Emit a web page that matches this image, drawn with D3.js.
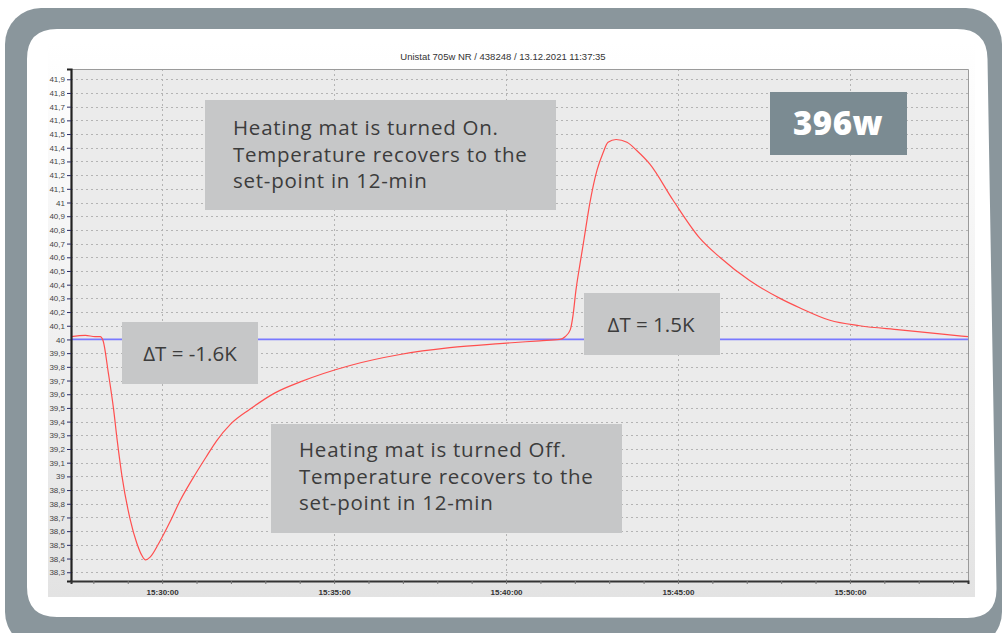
<!DOCTYPE html>
<html>
<head>
<meta charset="utf-8">
<script src="https://cdn.jsdelivr.net/npm/d3@7"></script>
<style>
  html, body { margin: 0; padding: 0; background: #ffffff; }
  svg { display: block; }
</style>
</head>
<body>
<svg id="chart" width="1003" height="633"></svg>
<script>
// ---- data -------------------------------------------------------------
const chartTitle = "Unistat 705w NR / 438248 / 13.12.2021 11:37:35";

// bath temperature log (°C) against time of day
const sampleTimes = [
  "15:27:21","15:27:46","15:28:03","15:28:12","15:28:17","15:28:26","15:28:35",
  "15:28:42","15:28:50","15:29:04","15:29:16","15:29:25","15:29:31","15:29:39",
  "15:29:54","15:30:14","15:30:31","15:31:00","15:31:18","15:31:35","15:31:59",
  "15:32:33","15:33:17","15:34:01","15:35:28","15:36:55","15:38:22","15:39:49",
  "15:40:59","15:41:34","15:41:43","15:41:52","15:41:57","15:42:02","15:42:09",
  "15:42:16","15:42:26","15:42:39","15:42:49","15:42:58","15:43:12","15:43:31",
  "15:43:48","15:44:11","15:44:51","15:45:38","15:46:13","15:47:05","15:47:58",
  "15:48:33","15:49:25","15:50:17","15:51:27","15:52:37","15:53:26"
];
const bathTemps = [
  40.02, 40.03, 40.02, 40.02, 39.99, 39.76, 39.50,
  39.25, 39.00, 38.69, 38.51, 38.42, 38.39, 38.41,
  38.51, 38.67, 38.82, 39.03, 39.15, 39.26, 39.38,
  39.49, 39.61, 39.69, 39.81, 39.89, 39.94, 39.97,
  39.99, 40.00, 40.02, 40.07, 40.18, 40.36, 40.55,
  40.73, 40.99, 41.24, 41.36, 41.44, 41.46, 41.44,
  41.38, 41.28, 41.02, 40.74, 40.60, 40.43, 40.30,
  40.23, 40.14, 40.10, 40.07, 40.04, 40.02
];
const setpointTemp = 40.0;

const timeRange = ["15:27:21", "15:53:26"];
const tempRange = [38.236, 41.975];

const yTickValues = [
  38.3, 38.4, 38.5, 38.6, 38.7, 38.8, 38.9, 39.0, 39.1, 39.2, 39.3, 39.4,
  39.5, 39.6, 39.7, 39.8, 39.9, 40.0, 40.1, 40.2, 40.3, 40.4, 40.5, 40.6,
  40.7, 40.8, 40.9, 41.0, 41.1, 41.2, 41.3, 41.4, 41.5, 41.6, 41.7, 41.8, 41.9
];
const xTickLabels = ["15:30:00", "15:35:00", "15:40:00", "15:45:00", "15:50:00"];

const noteHeatingOn  = ["Heating mat is turned On.", "Temperature recovers to the", "set-point in 12-min"];
const noteHeatingOff = ["Heating mat is turned Off.", "Temperature recovers to the", "set-point in 12-min"];
const noteDropLabel  = "\u0394T = -1.6K";
const noteRiseLabel  = "\u0394T = 1.5K";
const powerLabel     = "396w";

// ---- layout -----------------------------------------------------------
const svg = d3.select("#chart");
const plot = { left: 71, top: 69, right: 968, bottom: 581 };
const parseTime = d3.timeParse("%H:%M:%S");

// grey outer frame with a white card inside
svg.append("rect").attr("x", 5).attr("y", 8).attr("width", 997).attr("height", 640)
  .attr("rx", 36).attr("fill", "#8a969c");

function roundedPoly(pts, r) {
  const n = pts.length;
  let d = "";
  for (let i = 0; i < n; i++) {
    const p0 = pts[(i - 1 + n) % n], p1 = pts[i], p2 = pts[(i + 1) % n];
    const a = unit(p1, p0), b = unit(p1, p2);
    const s = [p1[0] + a[0] * r, p1[1] + a[1] * r];
    const e = [p1[0] + b[0] * r, p1[1] + b[1] * r];
    d += (i === 0 ? "M" : "L") + s[0] + "," + s[1] + "Q" + p1[0] + "," + p1[1] + " " + e[0] + "," + e[1];
  }
  return d + "Z";
  function unit(p, q) {
    const dx = q[0] - p[0], dy = q[1] - p[1], l = Math.hypot(dx, dy);
    return [dx / l, dy / l];
  }
}
svg.append("path")
  .attr("d", roundedPoly([[27, 29], [987, 29], [997, 618], [27, 617]], 30))
  .attr("fill", "#ffffff");

// chart panel background
const defs = svg.append("defs");
const grad = defs.append("linearGradient").attr("id", "panelGrad")
  .attr("x1", 0).attr("y1", 0).attr("x2", 0).attr("y2", 1);
grad.append("stop").attr("offset", "0%").attr("stop-color", "#ffffff");
grad.append("stop").attr("offset", "100%").attr("stop-color", "#e3e3e3");
svg.append("rect").attr("x", 48).attr("y", 42).attr("width", 927).attr("height", 555)
  .attr("fill", "url(#panelGrad)");

svg.append("rect")
  .attr("x", plot.left).attr("y", plot.top)
  .attr("width", plot.right - plot.left).attr("height", plot.bottom - plot.top)
  .attr("fill", "#ebebeb");

svg.append("text")
  .attr("x", 503).attr("y", 60).attr("text-anchor", "middle")
  .attr("font-family", "Liberation Sans, Arial, sans-serif").attr("font-size", 9.5)
  .attr("fill", "#333").text(chartTitle);

// ---- scales -----------------------------------------------------------
const x = d3.scaleTime().domain(timeRange.map(parseTime)).range([plot.left, plot.right]);
const y = d3.scaleLinear().domain(tempRange).range([plot.bottom, plot.top]);

const series = sampleTimes.map((t, i) => ({ t: parseTime(t), v: bathTemps[i] }));
const xMajor = xTickLabels.map(parseTime);

// ---- grid -------------------------------------------------------------
const grid = svg.append("g").attr("stroke", "#b4b4b4").attr("stroke-width", 1)
  .attr("stroke-dasharray", "2,3").attr("fill", "none");
grid.selectAll("line.h").data(yTickValues).join("line").attr("class", "h")
  .attr("x1", plot.left).attr("x2", plot.right)
  .attr("y1", d => Math.round(y(d)) + 0.5).attr("y2", d => Math.round(y(d)) + 0.5);
grid.selectAll("line.v").data(xMajor).join("line").attr("class", "v")
  .attr("y1", plot.top).attr("y2", plot.bottom)
  .attr("x1", d => Math.round(x(d)) + 0.5).attr("x2", d => Math.round(x(d)) + 0.5);

// plot border (top/right)
svg.append("path")
  .attr("d", `M${plot.left},${plot.top + 0.5}H${plot.right + 0.5}V${plot.bottom}`)
  .attr("fill", "none").attr("stroke", "#9a9a9a").attr("stroke-width", 1);

// ---- series -----------------------------------------------------------
svg.append("line")
  .attr("x1", plot.left).attr("x2", plot.right)
  .attr("y1", y(setpointTemp)).attr("y2", y(setpointTemp))
  .attr("stroke", "#7a7aff").attr("stroke-width", 1.8);

svg.append("path").datum(series)
  .attr("fill", "none").attr("stroke", "#ff4f4f").attr("stroke-width", 1.2)
  .attr("d", d3.line().x(d => x(d.t)).y(d => y(d.v)).curve(d3.curveMonotoneX));

// ---- axes -------------------------------------------------------------
const fmtTemp = v => {
  const s = d3.format(".1f")(v).replace(".", ",");
  return s.endsWith(",0") ? s.slice(0, -2) : s;
};
const yAxis = svg.append("g").attr("transform", `translate(${plot.left},0)`)
  .call(d3.axisLeft(y).tickValues(yTickValues).tickSize(4).tickPadding(2).tickFormat(fmtTemp));
yAxis.select(".domain").attr("stroke", "#222").attr("stroke-width", 2.2);
yAxis.selectAll(".tick line").attr("stroke", "#2c2c66");
yAxis.selectAll(".tick text")
  .attr("font-family", "Liberation Sans, Arial, sans-serif").attr("font-size", 8)
  .attr("fill", "#444");

const fmtClock = d3.timeFormat("%H:%M:%S");
const xAxis = svg.append("g").attr("transform", `translate(0,${plot.bottom})`)
  .call(d3.axisBottom(x).ticks(d3.timeMinute.every(1)).tickSize(3).tickPadding(5)
    .tickFormat(d => xTickLabels.includes(fmtClock(d)) ? fmtClock(d) : ""));
xAxis.select(".domain").attr("stroke", "#333").attr("stroke-width", 2);
xAxis.selectAll(".tick line").attr("stroke", "#777");
xAxis.selectAll(".tick text")
  .attr("font-family", "Liberation Sans, Arial, sans-serif").attr("font-size", 8)
  .attr("font-weight", "bold").attr("fill", "#333");

// ---- annotations ------------------------------------------------------
const noteFont = "Open Sans, sans-serif";
function noteBox(bx, by, bw, bh, lines, tx, ty0, lh, size, spacing, anchor) {
  const g = svg.append("g");
  g.append("rect").attr("x", bx).attr("y", by).attr("width", bw).attr("height", bh)
    .attr("fill", "#c6c7c8");
  g.selectAll("text").data(lines).join("text")
    .attr("x", tx).attr("y", (d, i) => ty0 + i * lh)
    .attr("text-anchor", anchor || "start")
    .attr("font-family", noteFont).attr("font-size", size).attr("font-weight", 400)
    .attr("letter-spacing", spacing)
    .attr("fill", "#3c3c3c").text(d => d);
}
noteBox(205, 100, 351, 110, noteHeatingOn, 233, 135, 26.5, 20.5, 0.75);
noteBox(271, 424, 351, 109, noteHeatingOff, 299, 457, 26.5, 20.5, 0.75);
noteBox(122, 322, 136, 62, [noteDropLabel], 190, 361, 0, 20.5, 0, "middle");
noteBox(584, 293, 136, 62, [noteRiseLabel], 651, 332, 0, 20.5, 0, "middle");

svg.append("rect").attr("x", 770).attr("y", 92).attr("width", 137).attr("height", 63)
  .attr("fill", "#7b8b92");
svg.append("text").attr("x", 838).attr("y", 135).attr("text-anchor", "middle")
  .attr("font-family", noteFont).attr("font-size", 33).attr("font-weight", 800)
  .attr("letter-spacing", 0.5)
  .attr("fill", "#ffffff").text(powerLabel);
</script>
</body>
</html>
